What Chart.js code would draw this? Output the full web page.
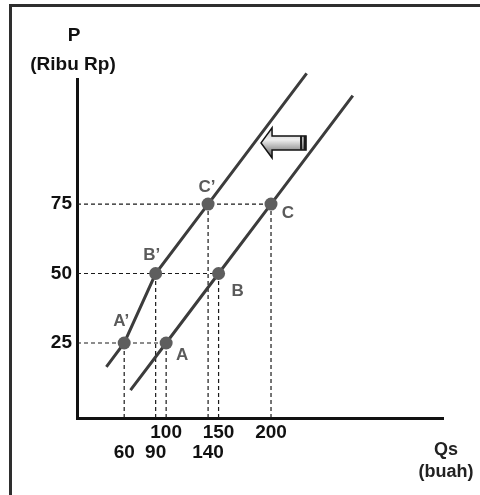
<!DOCTYPE html>
<html>
<head>
<meta charset="utf-8">
<script src="https://cdn.jsdelivr.net/npm/chart.js@4.4.1/dist/chart.umd.min.js"></script>
<style>
  html, body { margin: 0; padding: 0; background: #fff; overflow: hidden; }
  #wrap { position: relative; width: 480px; height: 495px; }
  #frame { position: absolute; left: 9px; top: 4px; right: 0; bottom: 0;
           border-top: 3px solid #2e2e2e; border-left: 3px solid #2e2e2e; }
  #chart { position: absolute; left: 0; top: 0; }
  .ttl { position: absolute; font-family: "Liberation Sans", Arial, sans-serif;
         font-weight: bold; font-size: 19px; line-height: 22px; text-align: center; color: #111; }
</style>
</head>
<body>
<div id="wrap">
  <div id="frame"></div>
  <canvas id="chart" width="480" height="495"></canvas>
  <div class="ttl" style="left:24px; top:24px; width:100px;">P</div>
  <div class="ttl" style="left:23px; top:53px; width:100px;">(Ribu Rp)</div>
  <div class="ttl" style="left:412px; top:438px; width:68px; color:#222; font-size:18px;">Qs</div>
  <div class="ttl" style="left:412px; top:460px; width:68px; color:#222; font-size:18px;">(buah)</div>
</div>
<script>
"use strict";

// values
const prices = [25, 50, 75];
const qtyS = [100, 150, 200];          // A, B, C  (original supply)
const qtyS2 = [60, 90, 140];           // A', B', C'  (shifted supply)
const namesS = ["A", "B", "C"];
const namesS2 = ["A\u2019", "B\u2019", "C\u2019"];
const endsS = [[66, 8], [278, 114]];   // where the S line stops
const endsS2 = [[43, 16.4], [234, 122]]; // where the S' line stops
const priceTicks = [25, 50, 75];
const qtyTicksTop = [100, 150, 200];
const qtyTicksBottom = [60, 90, 140];
const arrowTip = [190.5, 97];          // shift arrow, tip (Q, P)
const arrowTail = 233.4;

const X_MIN = 15, X_MAX = 364, Y_MIN = -2, Y_MAX = 120;
const FONT = '"Liberation Sans", Arial, sans-serif';

const pt = (q, p) => ({ x: q, y: p });

// dashed guides
const guides = [];
prices.forEach((p, i) => {
  guides.push([pt(X_MIN, p), pt(qtyS[i], p)]);
  guides.push([pt(qtyS[i], Y_MIN), pt(qtyS[i], p)]);
  guides.push([pt(qtyS2[i], Y_MIN), pt(qtyS2[i], p)]);
});

const datasets = [
  {
    label: "S points",
    data: prices.map((p, i) => pt(qtyS[i], p)),
    pointRadius: 6.5, pointBackgroundColor: "#5e5e5e", pointBorderWidth: 0,
    showLine: false,
  },
  {
    label: "S' points",
    data: prices.map((p, i) => pt(qtyS2[i], p)),
    pointRadius: 6.5, pointBackgroundColor: "#5e5e5e", pointBorderWidth: 0,
    showLine: false,
  },
  {
    label: "S",
    data: [pt(...endsS[0]), ...prices.map((p, i) => pt(qtyS[i], p)), pt(...endsS[1])],
    showLine: true, borderColor: "#3c3c3c", borderWidth: 3, pointRadius: 0, clip: false,
  },
  {
    label: "S'",
    data: [pt(...endsS2[0]), ...prices.map((p, i) => pt(qtyS2[i], p)), pt(...endsS2[1])],
    showLine: true, borderColor: "#3c3c3c", borderWidth: 3, pointRadius: 0, clip: false,
  },
  ...guides.map((g) => ({
    label: "guide",
    data: g,
    showLine: true, borderColor: "#1a1a1a", borderWidth: 1.2, borderDash: [4, 3],
    pointRadius: 0,
  })),
];

const pointNames = {
  id: "pointNames",
  afterDatasetsDraw(chart, args, opts) {
    const ctx = chart.ctx;
    ctx.save();
    ctx.font = "bold 17px " + FONT;
    ctx.fillStyle = "#5a5a5a";
    ctx.textAlign = "center";
    ctx.textBaseline = "middle";
    opts.sets.forEach((s) => {
      chart.getDatasetMeta(s.dataset).data.forEach((el, i) => {
        ctx.fillText(s.names[i], el.x + s.dx[i], el.y + s.dy[i]);
      });
    });
    ctx.restore();
  },
};

const shiftArrow = {
  id: "shiftArrow",
  afterDatasetsDraw(chart, args, opts) {
    const { ctx, scales: { x, y } } = chart;
    const tx = x.getPixelForValue(opts.tip[0]);
    const my = y.getPixelForValue(opts.tip[1]);
    const ex = x.getPixelForValue(opts.tail);
    const head = 11, hh = 15, bh = 7;
    ctx.save();
    const g = ctx.createLinearGradient(0, my - hh, 0, my + hh);
    g.addColorStop(0, "#c8c8c8");
    g.addColorStop(0.4, "#eeeeee");
    g.addColorStop(1, "#555555");
    ctx.beginPath();
    ctx.moveTo(tx, my);
    ctx.lineTo(tx + head, my - hh);
    ctx.lineTo(tx + head, my - bh);
    ctx.lineTo(ex, my - bh);
    ctx.lineTo(ex, my + bh);
    ctx.lineTo(tx + head, my + bh);
    ctx.lineTo(tx + head, my + hh);
    ctx.closePath();
    ctx.fillStyle = g;
    ctx.fill();
    ctx.lineWidth = 1.5;
    ctx.strokeStyle = "#111";
    ctx.stroke();
    ctx.fillStyle = "#1a1a1a";
    ctx.fillRect(ex - 6, my - bh, 2.2, bh * 2);
    ctx.fillRect(ex - 2.5, my - bh, 2.5, bh * 2);
    ctx.restore();
  },
};

const tickFont = { family: FONT, size: 19, weight: "bold", lineHeight: 1.05 };

new Chart(document.getElementById("chart"), {
  type: "scatter",
  data: { datasets },
  options: {
    responsive: false,
    animation: false,
    devicePixelRatio: 1,
    layout: { padding: { top: 79, right: 37, left: 0, bottom: 0 } },
    plugins: {
      legend: { display: false },
      tooltip: { enabled: false },
      pointNames: {
        sets: [
          { dataset: 0, names: namesS, dx: [16, 19, 17], dy: [12, 18, 9] },
          { dataset: 1, names: namesS2, dx: [-3, -4, -1], dy: [-22, -18, -17] },
        ],
      },
      shiftArrow: { tip: arrowTip, tail: arrowTail },
    },
    scales: {
      x: {
        type: "linear",
        min: X_MIN,
        max: X_MAX,
        grid: { display: false, drawTicks: false },
        border: { display: true, width: 3, color: "#111" },
        afterBuildTicks: (s) => {
          s.ticks = [...qtyTicksBottom, ...qtyTicksTop]
            .sort((a, b) => a - b)
            .map((v) => ({ value: v }));
        },
        afterFit: (s) => { s.height = 77; },
        ticks: {
          autoSkip: false,
          maxRotation: 0,
          padding: 5,
          color: "#111",
          font: tickFont,
          callback: (v) => (qtyTicksTop.includes(v) ? String(v) : ["", String(v)]),
        },
      },
      y: {
        type: "linear",
        min: Y_MIN,
        max: Y_MAX,
        grid: { display: false, drawTicks: false },
        border: { display: true, width: 3, color: "#111" },
        afterBuildTicks: (s) => {
          s.ticks = priceTicks.map((v) => ({ value: v }));
        },
        afterFit: (s) => { s.width = 77; },
        ticks: { padding: 5, color: "#111", font: tickFont },
      },
    },
  },
  plugins: [pointNames, shiftArrow],
});
</script>
</body>
</html>
